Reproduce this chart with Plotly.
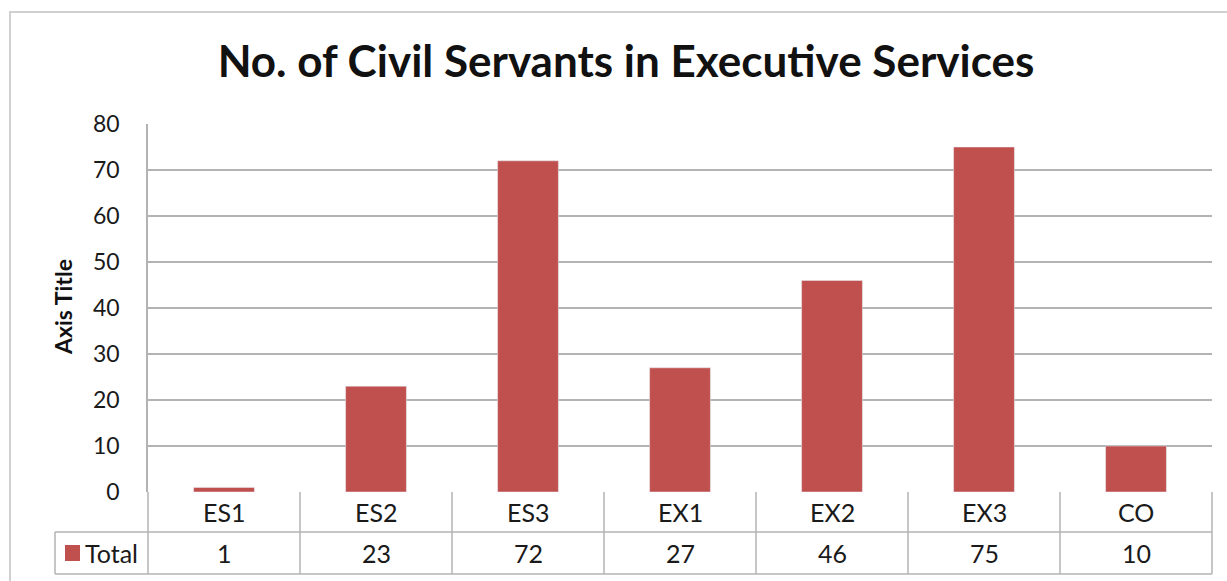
import plotly.graph_objects as go

categories = ["ES1", "ES2", "ES3", "EX1", "EX2", "EX3", "CO"]
totals = [1, 23, 72, 27, 46, 75, 10]
series_name = "Total"
title_text = "No. of Civil Servants in Executive Services"
y_title = "Axis Title"
y_ticks = [0, 10, 20, 30, 40, 50, 60, 70, 80]

BAR = "#C0504D"
GRID = "#B3B3B3"
FONT = "Lato, Open Sans, sans-serif"
TXT = "#1a1a1a"

W, H = 1227, 581
L, R, T, B = 148, 1212, 124, 492


def px(x):
    return (x - L) / (R - L)


def py(y):
    return (B - y) / (B - T)


fig = go.Figure(go.Bar(x=categories, y=totals, marker_color=BAR, name=series_name))

shapes = []
# outer chart border
shapes.append(dict(type="rect", xref="paper", yref="paper", x0=px(10), x1=px(1240),
                   y0=py(600), y1=py(12), line=dict(color="#D0D0D0", width=2)))
# table horizontal lines
for yy in (532, 574):
    shapes.append(dict(type="line", xref="paper", yref="paper", x0=px(55), x1=1,
                       y0=py(yy), y1=py(yy), line=dict(color=GRID, width=1.5)))
# table vertical lines at category boundaries
n = len(categories)
for i in range(n + 1):
    shapes.append(dict(type="line", xref="paper", yref="paper", x0=i / n, x1=i / n,
                       y0=0, y1=py(574), line=dict(color=GRID, width=1.5)))
# legend column left border
shapes.append(dict(type="line", xref="paper", yref="paper", x0=px(55), x1=px(55),
                   y0=py(532), y1=py(574), line=dict(color=GRID, width=1.5)))
# legend key
shapes.append(dict(type="rect", xref="paper", yref="paper", x0=px(65), x1=px(80),
                   y0=py(561), y1=py(545), fillcolor=BAR, line=dict(width=0)))

annotations = []
for i, (c, v) in enumerate(zip(categories, totals)):
    annotations.append(dict(x=(i + 0.5) / n, y=py(512), xref="paper", yref="paper", text=c,
                            xanchor="center", yanchor="middle",
                            showarrow=False, font=dict(size=25, color=TXT, family=FONT)))
    annotations.append(dict(x=(i + 0.5) / n, y=py(553), xref="paper", yref="paper", text=str(v),
                            xanchor="center", yanchor="middle",
                            showarrow=False, font=dict(size=25, color=TXT, family=FONT)))
annotations.append(dict(x=px(83), y=py(553), xref="paper", yref="paper", text=series_name,
                        xanchor="left", yanchor="middle", showarrow=False,
                        font=dict(size=25, color=TXT, family=FONT)))
annotations.append(dict(x=px(63), y=py(307), xref="paper", yref="paper", text="<b>" + y_title + "</b>",
                        xanchor="center", yanchor="middle",
                        textangle=-90, showarrow=False, font=dict(size=23, color="#111", family=FONT)))

fig.update_layout(
    width=W, height=H,
    margin=dict(l=L, r=W - R, t=T, b=H - B),
    paper_bgcolor="white", plot_bgcolor="white",
    title=dict(text="<b>" + title_text + "</b>", x=626 / W, xref="container", xanchor="center",
               y=1 - 62 / H, yanchor="middle", font=dict(size=44, color="#111", family=FONT)),
    bargap=0.6,
    showlegend=False,
    xaxis=dict(showticklabels=False, showgrid=False, showline=False, zeroline=False, ticks=""),
    yaxis=dict(range=[0, 80], tickvals=y_ticks, showgrid=True, gridcolor=GRID, gridwidth=1.5,
               showline=True, linecolor=GRID, linewidth=1.5, zeroline=False, ticks="",
               ticklabelstandoff=22, tickfont=dict(size=23, color=TXT, family=FONT)),
    shapes=shapes,
    annotations=annotations,
)

fig.write_html("out.html", config={"displayModeBar": False},
               post_script="document.body.style.margin='0';")
